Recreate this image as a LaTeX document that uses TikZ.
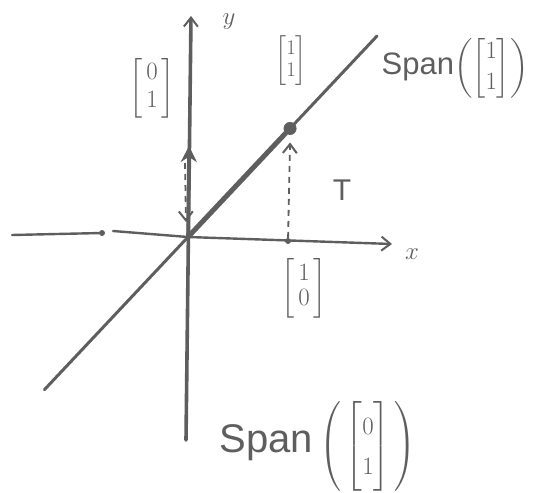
\documentclass[tikz,border=0pt]{standalone}
\usepackage{amsmath}
\usepackage{fontspec}
\setmainfont{Liberation Sans}
\usetikzlibrary{arrows.meta,calc}
\definecolor{ink}{HTML}{5E5E5E}

\begin{document}
\begin{tikzpicture}[
    x=1pt, y=-1pt,
    pen/.style={draw=ink, line width=2.4pt, line cap=round},
    heavy/.style={draw=ink, line width=3.6pt, line cap=round},
    tip/.style={-{Straight Barb[length=9pt,width=14pt,line width=2pt]}},
    dashpen/.style={draw=ink, line width=1.8pt, dash pattern=on 6pt off 5pt},
    dot/.style={circle, fill=ink, inner sep=0pt, minimum size=#1},
    lbl/.style={text=ink, inner sep=0pt, font=\fontsize{#1}{#1}\selectfont}
]
\useasboundingbox (0,0) rectangle (534,492);

% axes
\coordinate (O) at (188,237);
\coordinate (xl) at (12,235);
\node[dot=6pt] (xm) at (102,233) {};
\coordinate (xs) at (113,231);
\coordinate (xr) at (392,244);
\coordinate (yb) at (186,440);
\coordinate (yt) at (191,16);
\draw[pen] (xl) -- (xm);
\draw[pen, tip] (xs) -- (O) -- (xr);
\draw[heavy, tip] (yb) -- (yt);
\node[lbl=30] (ylab) at (229,22) {$y$};
\node[lbl=30] (xlab) at (412,254) {$x$};

% span of (1,1)
\coordinate (dl) at ($(O)!-0.76!(377,36)$);
\coordinate (dr) at (377,36);
\draw[pen, line width=3pt] (dl) -- (dr);
\node[dot=13pt] (v) at ($(O)!0.54!(dr)$) {};
\draw[ink, line width=5pt, line cap=round] (O) -- (v);

% basis vectors and their images
\node[dot=6pt] (e1) at (288,241) {};
\coordinate (e2) at (189,146);
\draw[heavy, -{Stealth[length=16pt,width=16pt]}] (O) -- (e2);
\draw[dashpen, tip] (e1) -- ($(v)+(0,14)$);
\draw[dashpen, tip] (185,163) -- (186,222);

% labels
\node[lbl=28] (l01) at (152,88) {$\begin{bmatrix}\,0\,\\1\end{bmatrix}$};
\node[lbl=22] (l11) at (291,61) {$\begin{bmatrix}1\\1\end{bmatrix}$};
\node[lbl=25] (l10) at (304,288) {$\begin{bmatrix}\,1\,\\0\end{bmatrix}$};
\node[lbl=30] (T) at (342,190) {T};
\node[lbl=31] (s11) at (455,68) {Span$\left(\begin{bmatrix}1\\1\end{bmatrix}\right)$};
\node[lbl=40] (s01) at (318,446) {Span\,$\left(\,\begin{bmatrix}0\\1\end{bmatrix}\,\right)$};
\end{tikzpicture}
\end{document}
